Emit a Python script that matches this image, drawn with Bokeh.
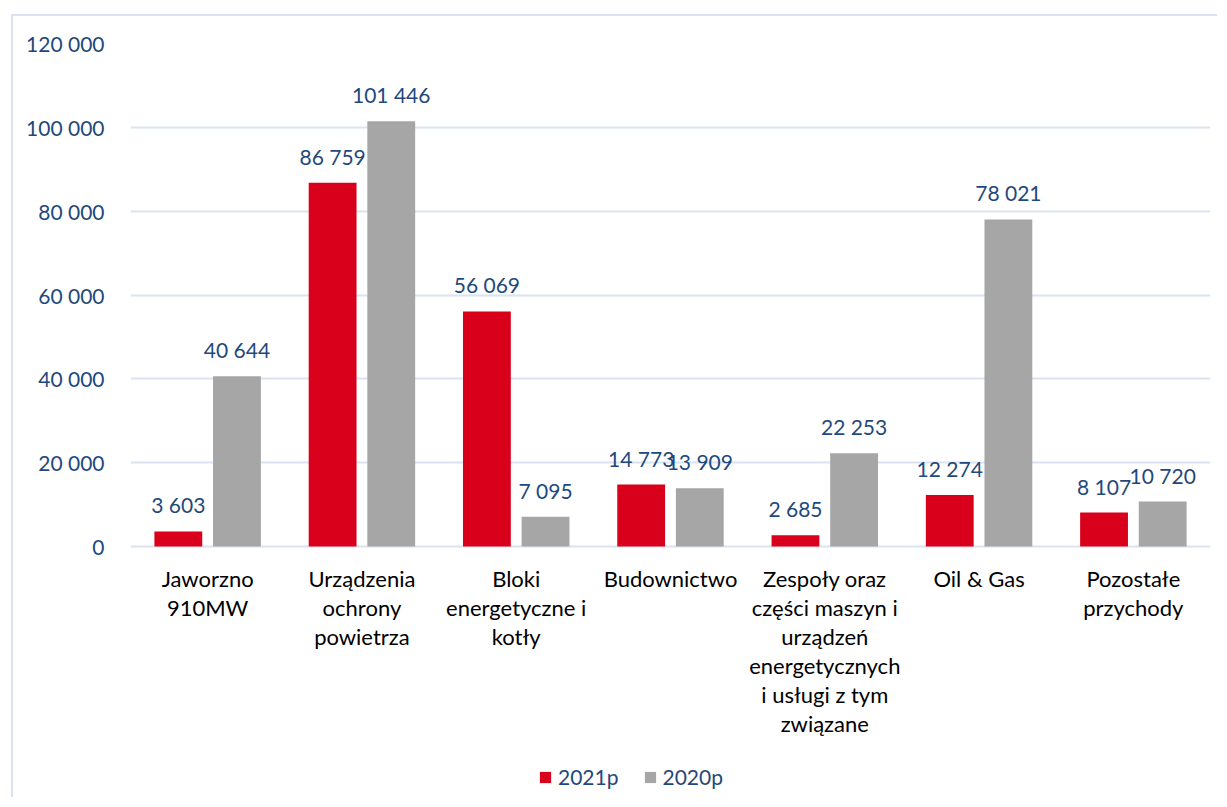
from bokeh.plotting import figure
from bokeh.models import (ColumnDataSource, FactorRange, FixedTicker, LabelSet,
                          Legend, LegendItem, Range1d)
from bokeh.core.properties import value
from bokeh.transform import dodge
from bokeh.embed import file_html
from bokeh.resources import INLINE

categories = ["Jaworzno\n910MW",
              "Urządzenia\nochrony\npowietrza",
              "Bloki\nenergetyczne i\nkotły",
              "Budownictwo",
              "Zespoły oraz\nczęści maszyn i\nurządzeń\nenergetycznych\ni usługi z tym\nzwiązane",
              "Oil & Gas",
              "Pozostałe\nprzychody"]
series_2021 = [3603, 86759, 56069, 14773, 2685, 12274, 8107]
series_2020 = [40644, 101446, 7095, 13909, 22253, 78021, 10720]
series_names = ["2021p", "2020p"]
y_ticks = [0, 20000, 40000, 60000, 80000, 100000, 120000]

FONT = "Lato"
BLUE = "#1F497D"
RED = "#D9001B"
GREY = "#A6A6A6"
GRID = "#DAE3F1"
NUM_SIZE = "21px"
CAT_SIZE = "22px"

# pixel layout
PX_PER_UNIT = 503 / 120000      # plot-area height (px) / y span
FRAME_H = 756                   # frame height in px
Y_MIN = -(FRAME_H - 503) / PX_PER_UNIT


def fmt(v):
    return f"{v:,}".replace(",", " ")


src = ColumnDataSource(dict(
    cat=categories,
    v21=series_2021,
    v20=series_2020,
    l21=[fmt(v) for v in series_2021],
    l20=[fmt(v) for v in series_2020],
))

# category label lines
lc, lt, lo, ly = [], [], [], []
for c in categories:
    for i, line in enumerate(c.split("\n")):
        lc.append(c)
        lt.append(line)
        lo.append(-(32 + 29 * i))
        ly.append(0)
lsrc = ColumnDataSource(dict(cat=lc, text=lt, off=lo, y=ly))

p = figure(x_range=FactorRange(*categories), y_range=Range1d(Y_MIN, 120000),
           width=1206, height=783, output_backend="svg", toolbar_location=None,
           min_border_left=117, min_border_right=9, min_border_top=27,
           min_border_bottom=0)
p.styles = {"margin-left": "11px", "margin-top": "14px",
            "border-left": "2px solid #DAE3F3", "border-top": "2px solid #DAE3F3"}
p.x_range.range_padding = 0
p.outline_line_color = None
p.background_fill_color = "white"
p.border_fill_color = "white"

off = 0.19
bw = 0.31
r21 = p.vbar(x=dodge("cat", -off, range=p.x_range), top="v21", width=bw, source=src,
             fill_color=RED, line_color=None)
r20 = p.vbar(x=dodge("cat", off, range=p.x_range), top="v20", width=bw, source=src,
             fill_color=GREY, line_color=None)

for xcol, ycol, lcol in ((-off, "v21", "l21"), (off, "v20", "l20")):
    lab = LabelSet(x=dodge("cat", xcol, range=p.x_range), y=ycol, text=lcol, source=src,
                   text_align="center", text_baseline="alphabetic", y_offset=18,
                   text_font=value(FONT), text_font_size=NUM_SIZE, text_color=BLUE)
    p.add_layout(lab)

cat_labels = LabelSet(x="cat", y="y", text="text", y_offset="off", source=lsrc,
                      text_align="center", text_baseline="middle",
                      text_font=value(FONT), text_font_size=CAT_SIZE, text_color="black")
p.add_layout(cat_labels)

p.xgrid.grid_line_color = None
p.ygrid.ticker = FixedTicker(ticks=y_ticks)
p.ygrid.grid_line_color = GRID
p.ygrid.grid_line_width = 2

p.xaxis.visible = False
p.yaxis.ticker = FixedTicker(ticks=y_ticks)
p.yaxis.major_label_overrides = {t: fmt(t) for t in y_ticks}
p.yaxis.axis_line_color = None
p.yaxis.major_tick_line_color = None
p.yaxis.minor_tick_line_color = None
p.yaxis.major_label_standoff = 20
p.yaxis.major_label_text_font = FONT
p.yaxis.major_label_text_font_size = NUM_SIZE
p.yaxis.major_label_text_color = BLUE

legend = Legend(items=[LegendItem(label=series_names[0], renderers=[r21]),
                       LegendItem(label=series_names[1], renderers=[r20])],
                orientation="horizontal", location=(408, 10),
                label_text_font=FONT, label_text_font_size=NUM_SIZE,
                label_text_color=BLUE, glyph_width=14, glyph_height=14,
                label_standoff=6, spacing=24, padding=4, margin=0,
                border_line_color=None, background_fill_alpha=0)
p.add_layout(legend, "center")

open("out.html", "w").write(file_html(p, INLINE))
